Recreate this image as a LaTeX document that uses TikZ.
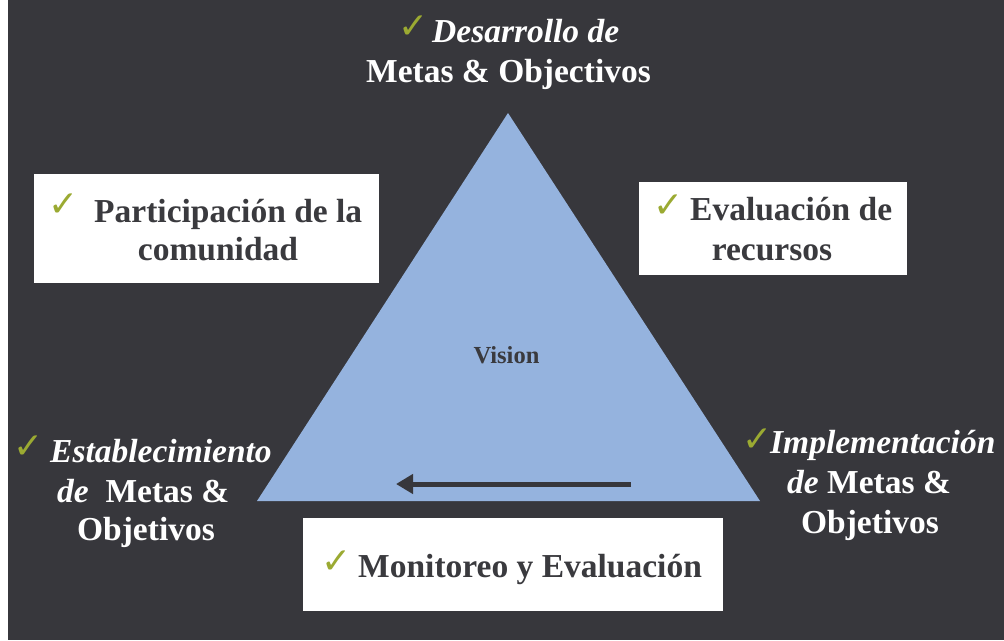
\documentclass[tikz,border=0pt]{standalone}
\usepackage{fontspec}
\setmainfont{Liberation Serif}
\newfontfamily\ckfont{DejaVu Sans}
\usetikzlibrary{arrows.meta}
\definecolor{bg}{RGB}{55,55,60}
\definecolor{tri}{RGB}{149,179,222}
\definecolor{ink}{RGB}{58,58,62}
\definecolor{ckc}{RGB}{155,170,50}
\tikzset{
  boxnode/.style={fill=white, draw=none, rectangle, inner sep=0pt},
  ck/.style={inner sep=0pt, text=ckc, font=\ckfont\fontsize{36}{36}\selectfont},
  wtxt/.style={inner sep=0pt, text=white, font=\fontsize{33.5}{40}\selectfont\bfseries},
  dtxt/.style={inner sep=0pt, text=ink, font=\fontsize{33.5}{40}\selectfont\bfseries},
  vtxt/.style={inner sep=0pt, text=ink, font=\fontsize{24.5}{28}\selectfont\bfseries},
}
\begin{document}
\begin{tikzpicture}[x=1pt,y=-1pt]
\useasboundingbox (0,0) rectangle (1004,640);
\fill[white] (0,0) rectangle (1004,640);
\fill[bg] (8,0) rectangle (1004,640);
% triangle
\coordinate (apex) at (508,113);
\coordinate (bl) at (257,501);
\coordinate (br) at (760,501);
\fill[tri] (apex) -- (br) -- (bl) -- cycle;
% arrow
\coordinate (arrS) at (631,484);
\coordinate (arrE) at (396,484);
\draw[bg, line width=5pt, -{Triangle[length=17pt,width=19pt]}] (arrS) -- (arrE);
% Vision
\node[vtxt, anchor=base] (vision) at (506.5,363) {Vision};
% boxes
\node[boxnode, minimum width=345pt, minimum height=109pt] (lbox) at (206.5,228.5) {};
\node[boxnode, minimum width=268pt, minimum height=93pt] (rbox) at (773,228.5) {};
\node[boxnode, minimum width=420pt, minimum height=93pt] (bbox) at (513,564.5) {};
% top label
\node[ck] (ck1) at (413.5,27) {✓};
\node[wtxt, anchor=base west] (top1) at (432,42) {\itshape Desarrollo de};
\node[wtxt, anchor=base] (top2) at (508.5,82) {Metas \& Objectivos};
% left box
\node[ck] (ck2) at (64,205.5) {✓};
\node[dtxt, anchor=base west] (lb1) at (94,222) {Participación de la};
\node[dtxt, anchor=base] (lb2) at (218,260) {comunidad};
% right box
\node[ck] (ck3) at (668.5,206) {✓};
\node[dtxt, anchor=base west] (rb1) at (690,220) {Evaluación de};
\node[dtxt, anchor=base] (rb2) at (772,260.5) {recursos};
% bottom box
\node[ck] (ck4) at (336.5,562) {✓};
\node[dtxt, anchor=base west] (bb1) at (358,577) {Monitoreo y Evaluación};
% left label
\node[ck] (ck5) at (28.5,447.5) {✓};
\node[wtxt, anchor=base west] (ll1) at (50,462.5) {\itshape Establecimiento};
\node[wtxt, anchor=base west] (ll2) at (57,502) {\textit{de}\ \ Metas \&};
\node[wtxt, anchor=base] (ll3) at (146,540) {Objetivos};
% right label
\node[ck] (ck6) at (758,440.5) {✓};
\node[wtxt, anchor=base west] (rl1) at (770,453) {\itshape Implementación};
\node[wtxt, anchor=base west] (rl2) at (787,493) {\textit{de} Metas \&};
\node[wtxt, anchor=base] (rl3) at (870,533) {Objetivos};
\end{tikzpicture}
\end{document}
